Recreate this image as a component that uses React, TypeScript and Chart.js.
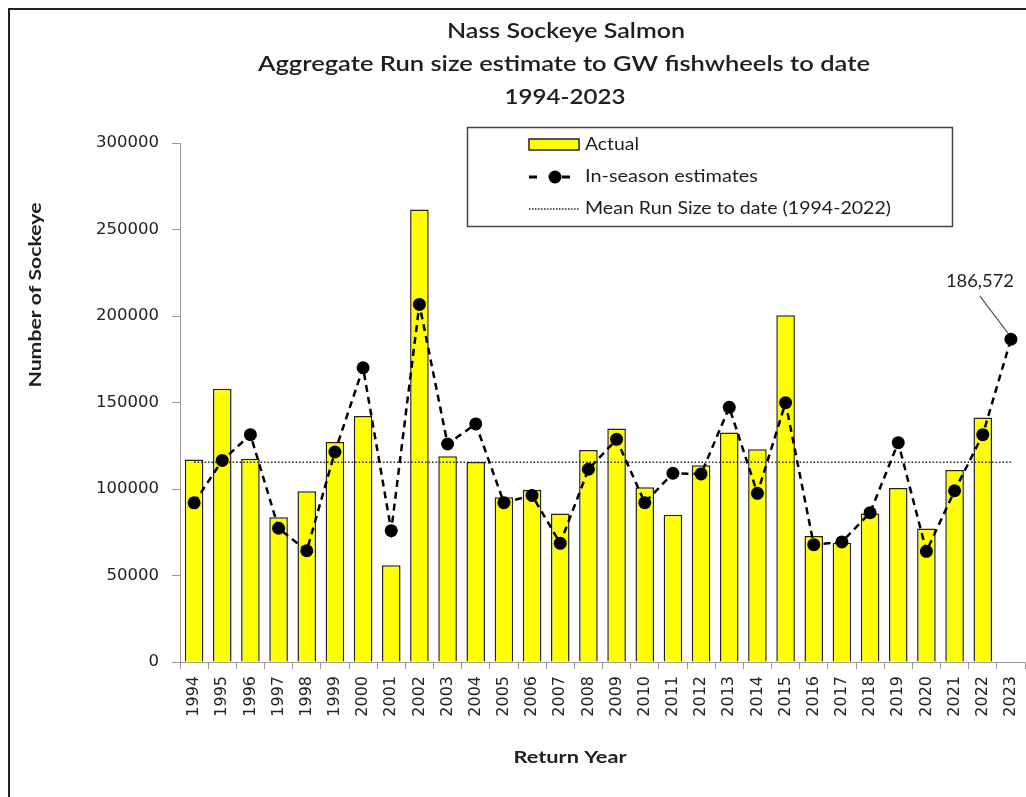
import React, { useEffect, useRef } from "react";
import { Chart, registerables } from "chart.js";

Chart.register(...registerables);

const years = [
  "1994", "1995", "1996", "1997", "1998", "1999", "2000", "2001", "2002", "2003",
  "2004", "2005", "2006", "2007", "2008", "2009", "2010", "2011", "2012", "2013",
  "2014", "2015", "2016", "2017", "2018", "2019", "2020", "2021", "2022", "2023",
];

const actual = [
  117000, 158000, 117500, 83600, 98700, 127200, 142200, 55900, 261600, 119000,
  115600, 95200, 99400, 85900, 122500, 134900, 101000, 85100, 113700, 132600,
  123000, 200400, 72800, 69000, 85900, 100600, 77100, 111000, 141400, null,
];

const inSeason = [
  92000, 116500, 131400, 77300, 64300, 121400, 170100, 75900, 206700, 126000,
  137600, 92100, 96300, 68600, 111400, 128700, 92100, 109100, 108700, 147200,
  97500, 149900, 67800, 69400, 86300, 126800, 64000, 99000, 131400, 186572,
];

const MEAN_RUN = 115500;

const yTicks = { min: 0, max: 300000, step: 50000 };

const titleLines = [
  "Nass Sockeye Salmon",
  "Aggregate Run size estimate to GW fishwheels to date",
  "1994-2023",
];

const legendLabels = ["Actual", "In-season estimates", "Mean Run Size to date (1994-2022)"];

const W = 1026;
const H = 797;
const TEXT = "#1e1e1e";
const SANS = "Lato, 'Open Sans', sans-serif";

function fitText(ctx, text, cx, cy, font, width, rot = 0) {
  ctx.save();
  ctx.font = font;
  const m = ctx.measureText(text).width;
  ctx.translate(cx, cy);
  if (rot) ctx.rotate(rot);
  ctx.scale(width / m, 1);
  ctx.textAlign = "center";
  ctx.textBaseline = "middle";
  ctx.fillStyle = TEXT;
  ctx.fillText(text, 0, 0);
  ctx.restore();
}

const decorPlugin = {
  id: "decor",
  beforeDraw(chart) {
    const ctx = chart.ctx;
    ctx.save();
    ctx.fillStyle = "#ffffff";
    ctx.fillRect(0, 0, chart.width, chart.height);
    ctx.strokeStyle = "#222";
    ctx.lineWidth = 2;
    ctx.beginPath();
    ctx.moveTo(9, H + 10);
    ctx.lineTo(9, 9);
    ctx.lineTo(W + 10, 9);
    ctx.stroke();
    ctx.restore();
  },
  afterDraw(chart) {
    const ctx = chart.ctx;
    // titles
    fitText(ctx, titleLines[0], 566, 31, `600 21px ${SANS}`, 238);
    fitText(ctx, titleLines[1], 564, 64, `600 21px ${SANS}`, 612);
    fitText(ctx, titleLines[2], 565, 97, `600 21px ${SANS}`, 121);
    // axis titles
    fitText(ctx, "Number of Sockeye", 36, 295, `bold 17px ${SANS}`, 185, -Math.PI / 2);
    fitText(ctx, "Return Year", 570, 758, `bold 17px ${SANS}`, 113);

    // legend
    ctx.save();
    ctx.strokeStyle = "#444";
    ctx.lineWidth = 1.5;
    ctx.strokeRect(467.5, 127.5, 485, 99);
    ctx.fillStyle = "#FFFF00";
    ctx.fillRect(529, 139, 50, 11);
    ctx.strokeStyle = "#222";
    ctx.lineWidth = 1.5;
    ctx.strokeRect(529, 139, 50, 11);
    ctx.strokeStyle = "#000";
    ctx.lineWidth = 3;
    ctx.beginPath();
    ctx.moveTo(529, 177);
    ctx.lineTo(537, 177);
    ctx.moveTo(562, 177);
    ctx.lineTo(570, 177);
    ctx.stroke();
    ctx.fillStyle = "#000";
    ctx.beginPath();
    ctx.arc(555, 177, 6.5, 0, Math.PI * 2);
    ctx.fill();
    ctx.lineWidth = 1.5;
    ctx.strokeStyle = "#222";
    ctx.setLineDash([1.5, 1.5]);
    ctx.beginPath();
    ctx.moveTo(529, 209);
    ctx.lineTo(579, 209);
    ctx.stroke();
    ctx.setLineDash([]);
    ctx.restore();
    fitText(ctx, legendLabels[0], 585 + 27, 145, `17px ${SANS}`, 54);
    fitText(ctx, legendLabels[1], 585 + 86.5, 177, `17px ${SANS}`, 173);
    fitText(ctx, legendLabels[2], 585 + 153, 209, `17px ${SANS}`, 306);

    // annotation on last in-season estimate
    const meta = chart.getDatasetMeta(1);
    const last = meta.data[meta.data.length - 1];
    if (last) {
      const px = last.x;
      const py = last.y;
      ctx.save();
      ctx.strokeStyle = "#555";
      ctx.lineWidth = 1.2;
      ctx.beginPath();
      ctx.moveTo(px - 31, py - 43);
      ctx.lineTo(px - 3, py - 6);
      ctx.stroke();
      ctx.restore();
      const v = inSeason[inSeason.length - 1];
      fitText(ctx, v.toLocaleString("en-US"), px - 31, py - 58, `17px ${SANS}`, 68);
    }
  },
};

export default function App() {
  const ref = useRef(null);

  useEffect(() => {
    document.body.style.margin = "0";
    const canvas = ref.current;
    const chart = new Chart(canvas, {
      type: "bar",
      data: {
        labels: years,
        datasets: [
          {
            type: "bar",
            label: legendLabels[0],
            data: actual,
            backgroundColor: "#FFFF00",
            borderColor: "#222",
            borderWidth: 1.5,
            barPercentage: 0.66,
            categoryPercentage: 1,
            order: 3,
          },
          {
            type: "line",
            label: legendLabels[1],
            data: inSeason,
            borderColor: "#000",
            borderWidth: 2.5,
            borderDash: [7, 5],
            pointRadius: 6.5,
            pointBackgroundColor: "#000",
            pointBorderColor: "#000",
            pointBorderWidth: 0,
            tension: 0,
            fill: false,
            clip: false,
            order: 1,
          },
          {
            type: "line",
            label: legendLabels[2],
            data: years.map(() => MEAN_RUN),
            borderColor: "#222",
            borderWidth: 1.5,
            borderDash: [1.5, 2],
            pointRadius: 0,
            fill: false,
            order: 2,
          },
        ],
      },
      options: {
        responsive: false,
        animation: false,
        devicePixelRatio: 1,
        layout: { autoPadding: false, padding: { top: 143, right: 1, left: 0, bottom: 0 } },
        plugins: {
          legend: { display: false },
          title: { display: false },
          tooltip: { enabled: false },
        },
        scales: {
          x: {
            offset: true,
            grid: {
              offset: true,
              drawOnChartArea: false,
              tickLength: 7,
              color: "#999",
            },
            border: { color: "#999", width: 1 },
            ticks: {
              autoSkip: false,
              minRotation: 90,
              maxRotation: 90,
              padding: 7,
              color: "#222",
              font: { family: "'DejaVu Sans'", size: 16 },
            },
            afterFit: (s) => {
              s.height = H - 662;
              s.paddingLeft = 0;
              s.paddingRight = 0;
            },
          },
          y: {
            min: yTicks.min,
            max: yTicks.max,
            grid: { drawOnChartArea: false, tickLength: 8, color: "#999" },
            border: { color: "#999", width: 1 },
            ticks: {
              stepSize: yTicks.step,
              padding: 13,
              color: "#222",
              font: { family: "'DejaVu Sans'", size: 16.5 },
              callback: (v) => String(v),
            },
            afterFit: (s) => {
              s.width = 180;
              s.paddingTop = 0;
              s.paddingBottom = 0;
            },
          },
        },
      },
      plugins: [decorPlugin],
    });
    return () => chart.destroy();
  }, []);

  return (
    <div style={{ width: W, height: H, overflow: "hidden" }}>
      <canvas ref={ref} width={W} height={H} style={{ display: "block" }} />
    </div>
  );
}
